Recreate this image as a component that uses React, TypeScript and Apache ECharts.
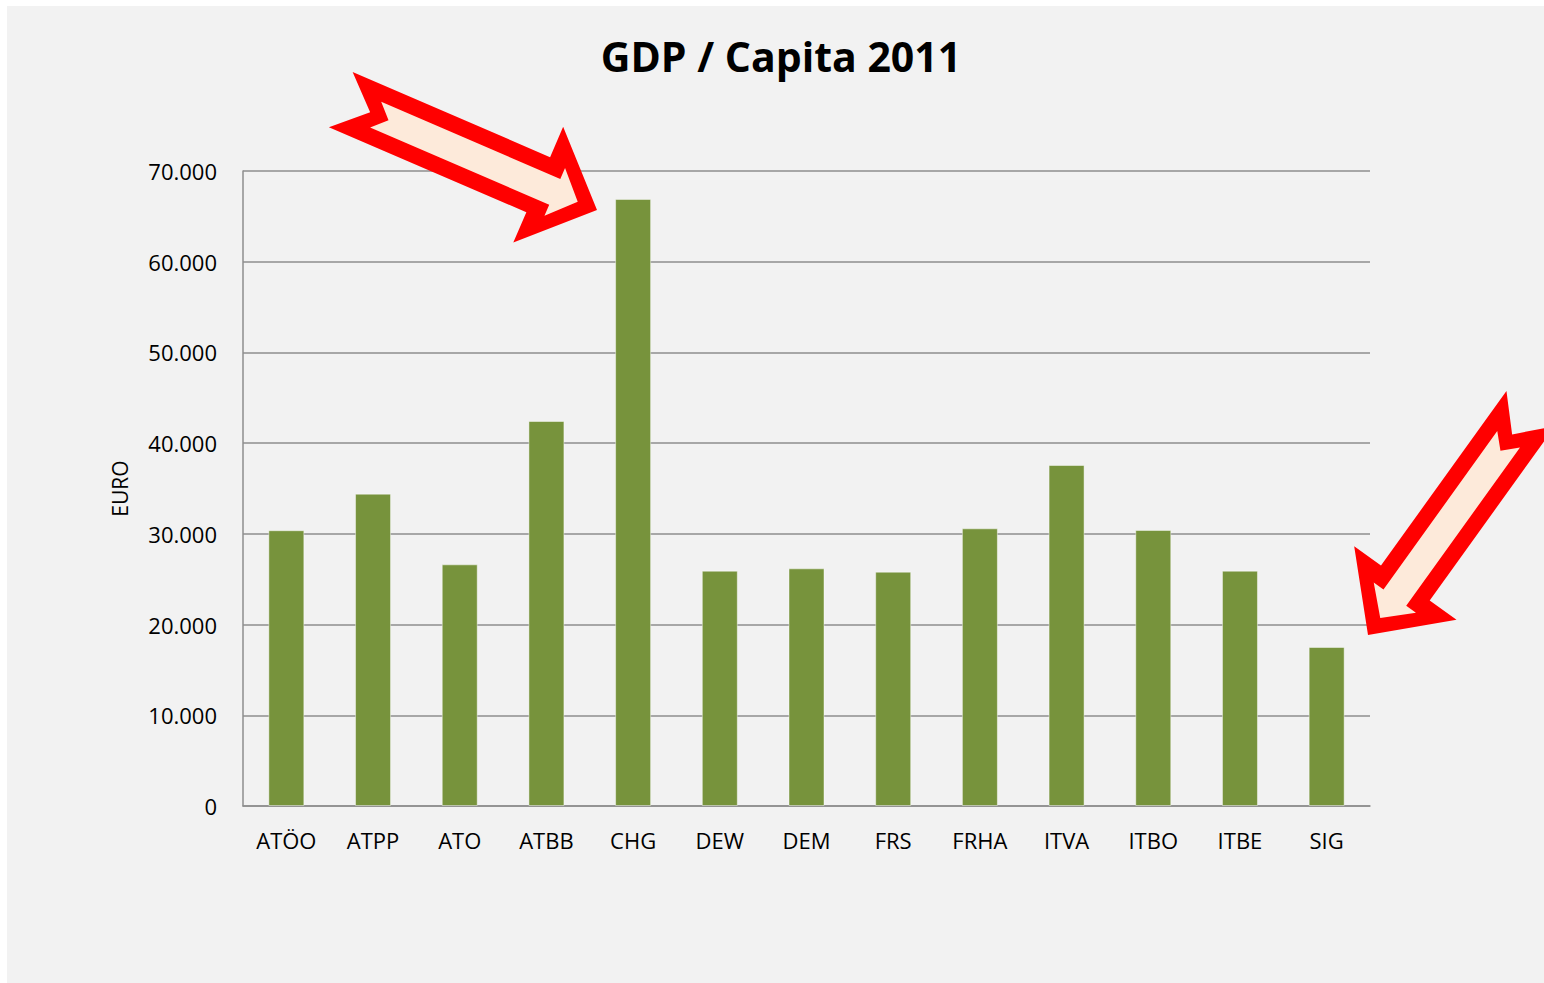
import React, { useEffect, useRef } from "react";
import * as echarts from "echarts";

const categories = ["ATÖO", "ATPP", "ATO", "ATBB", "CHG", "DEW", "DEM", "FRS", "FRHA", "ITVA", "ITBO", "ITBE", "SIG"];
const gdpPerCapita = [30400, 34430, 26640, 42440, 66920, 25940, 26200, 25830, 30610, 37590, 30430, 25940, 17530];
const yMin = 0;
const yMax = 70000;
const yStep = 10000;
const titleText = "GDP / Capita 2011";
const yAxisName = "EURO";

const FONT = "'Open Sans', 'Noto Sans', sans-serif";

// arrow outline in a local frame: tip at origin, pointing along +x
const arrowOuter: [number, number][] = [
  [0, 0], [-64, -63], [-64, -30], [-279, -30], [-247, 0], [-279, 30], [-64, 30], [-64, 63],
];
const arrowInner: [number, number][] = [
  [-21, 0], [-46, -26], [-46, -14], [-241, -14], [-227, 0], [-241, 14], [-46, 14], [-46, 26],
];

function place(pts: [number, number][], tx: number, ty: number, deg: number) {
  const a = (deg * Math.PI) / 180;
  const c = Math.cos(a);
  const s = Math.sin(a);
  return pts.map(([lx, ly]) => [tx + lx * c - ly * s, ty + lx * s + ly * c]);
}

function arrow(tx: number, ty: number, deg: number) {
  return [
    {
      type: "polygon",
      z: 100,
      shape: { points: place(arrowOuter, tx, ty, deg) },
      style: { fill: "#FF0000" },
    },
    {
      type: "polygon",
      z: 101,
      shape: { points: place(arrowInner, tx, ty, deg) },
      style: { fill: "#FDEADA" },
    },
  ];
}

function fmt(v: number) {
  return String(v).replace(/\B(?=(\d{3})+(?!\d))/g, ".");
}

export default function App() {
  const ref = useRef<HTMLDivElement>(null);
  useEffect(() => {
    if (!ref.current) return;
    const chart = echarts.init(ref.current, undefined, { renderer: "svg" });
    const gridColor = "#8e8e8e";
    chart.setOption({
      animation: false,
      backgroundColor: "#ffffff",
      grid: { left: 243, right: 174, top: 171, bottom: 177, containLabel: false },
      xAxis: {
        type: "category",
        data: categories,
        axisLine: { show: true, lineStyle: { color: gridColor, width: 1.5 } },
        axisTick: { show: false },
        axisLabel: { color: "#000", fontFamily: FONT, fontSize: 22, margin: 23 },
      },
      yAxis: {
        type: "value",
        min: yMin,
        max: yMax,
        interval: yStep,
        name: yAxisName,
        nameLocation: "middle",
        nameGap: 113,
        nameRotate: 90,
        nameTextStyle: { color: "#000", fontFamily: FONT, fontSize: 21 },
        axisLine: { show: true, lineStyle: { color: gridColor, width: 1.5 } },
        axisTick: { show: false },
        splitLine: { show: true, lineStyle: { color: gridColor, width: 1.5 } },
        axisLabel: { color: "#000", fontFamily: FONT, fontSize: 22, margin: 26, formatter: (v: number) => fmt(v) },
      },
      series: [
        {
          type: "bar",
          data: gdpPerCapita,
          barWidth: 36,
          itemStyle: { color: "#77933C", borderColor: "rgba(255,255,255,0.45)", borderWidth: 1 },
        },
      ],
      graphic: [
        { type: "rect", z: -100, shape: { x: 7, y: 6, width: 1537, height: 977 }, style: { fill: "#F2F2F2" } },
        {
          type: "text",
          z: 50,
          x: 781,
          y: 56,
          style: {
            text: titleText,
            fill: "#000",
            font: `bold 41px ${FONT}`,
            align: "center",
            verticalAlign: "middle",
          },
        },
        ...arrow(597, 210, 23.3),
        ...arrow(1368, 635, 125.7),
      ],
    });
    return () => chart.dispose();
  }, []);
  return <div ref={ref} style={{ position: "absolute", left: 0, top: 0, width: 1544, height: 983 }} />;
}
